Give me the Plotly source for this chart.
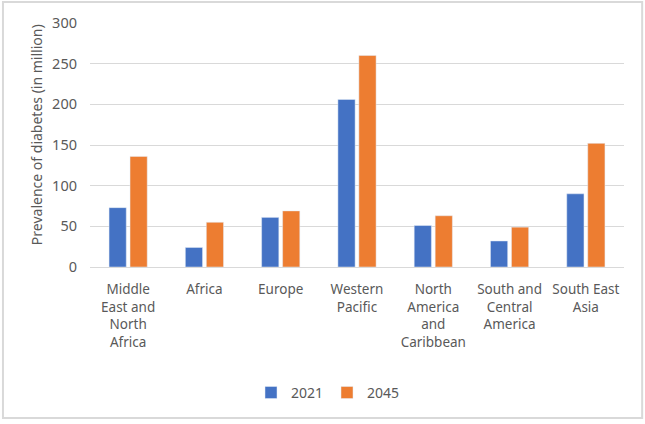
import plotly.graph_objects as go

regions = [
    "Middle<br>East and<br>North<br>Africa",
    "Africa",
    "Europe",
    "Western<br>Pacific",
    "North<br>America<br>and<br>Caribbean",
    "South and<br>Central<br>America",
    "South East<br>Asia",
]
values_2021 = [73, 24, 61, 206, 51, 32, 90]
values_2045 = [136, 55, 69, 260, 63, 49, 152]
y_ticks = [0, 50, 100, 150, 200, 250, 300]
y_title = "Prevalence of diabetes (in million)"

font_family = "Noto Sans, Open Sans, sans-serif"
gray = "#595959"

fig = go.Figure()
fig.add_trace(go.Bar(name="2021", x=regions, y=values_2021, marker_color="#4472C4"))
fig.add_trace(go.Bar(name="2045", x=regions, y=values_2045, marker_color="#ED7D31"))

fig.update_layout(
    width=645, height=424,
    margin=dict(l=90, r=21, t=23, b=157, autoexpand=False),
    paper_bgcolor="white", plot_bgcolor="white",
    barmode="group", bargap=0.45, bargroupgap=0.18,
    font=dict(family=font_family, color=gray, size=13),
    showlegend=True,
    legend=dict(orientation="h", x=0.3015, xanchor="left", y=-0.516, yanchor="middle",
                font=dict(size=14, color=gray), itemwidth=30, traceorder="normal",
                entrywidth=31, entrywidthmode="pixels"),
    shapes=[dict(type="rect", xref="paper", yref="paper",
                 x0=-0.163, x1=1.034, y0=-0.619, y1=1.086,
                 line=dict(color="#D9D9D9", width=2), fillcolor="rgba(0,0,0,0)", layer="below")],
    annotations=[dict(text=y_title, textangle=-90, xref="paper", yref="paper",
                      x=-0.099, y=0.541, xanchor="center", yanchor="middle", showarrow=False,
                      font=dict(size=14, color=gray))],
)
fig.update_xaxes(showline=True, linecolor="#D9D9D9", linewidth=1, ticks="",
                 tickfont=dict(size=13.5, color=gray), tickangle=0, showgrid=False,
                 automargin=False, ticklabelstandoff=10)
fig.update_yaxes(range=[0, 300], tickvals=y_ticks, showgrid=True, gridcolor="#D9D9D9",
                 gridwidth=1, zeroline=False, showline=False, automargin=False,
                 tickfont=dict(size=14.5, color=gray), ticklabelstandoff=12)

fig.write_html("out.html", config={"displayModeBar": False},
               post_script="document.body.style.margin='0';")
